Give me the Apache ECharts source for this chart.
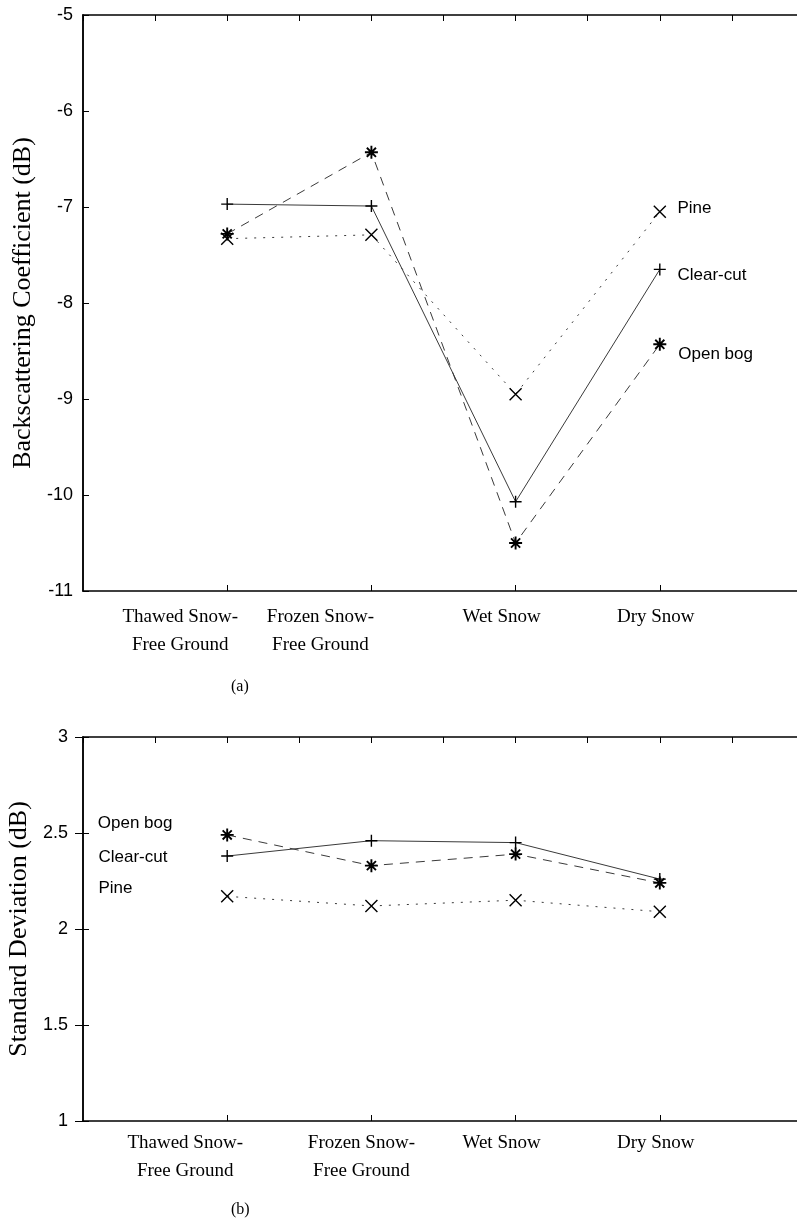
<!DOCTYPE html>
<html>
<head>
<meta charset="utf-8">
<script src="https://cdn.jsdelivr.net/npm/echarts@6/dist/echarts.min.js"></script>
<style>
  html, body { margin: 0; padding: 0; background: #fff; }
  #chart { width: 797px; height: 1226px; }
</style>
</head>
<body>
<div id="chart"></div>
<script>
// categories sit at x = 1..4 on a 0..5 value axis (like the original plot)
var categories = ['Thawed Snow-|Free Ground', 'Frozen Snow-|Free Ground', 'Wet Snow', 'Dry Snow'];
var catPos = [1, 2, 3, 4];

// (a) backscattering coefficient, dB
var sigmaPine     = [-7.33, -7.29, -8.95, -7.05];
var sigmaClearcut = [-6.97, -6.99, -10.07, -7.65];
var sigmaOpenbog  = [-7.28, -6.43, -10.50, -8.43];

// (b) standard deviation, dB
var sdPine     = [2.17, 2.12, 2.15, 2.09];
var sdClearcut = [2.38, 2.46, 2.45, 2.26];
var sdOpenbog  = [2.49, 2.33, 2.39, 2.24];

var SERIF = '"Liberation Serif", "Times New Roman", serif';
var SANS = '"Liberation Sans", Arial, sans-serif';

var SYM_X = 'path://M0 0L10 10M10 0L0 10';
var SYM_PLUS = 'path://M0 5L10 5M5 0L5 10';
var SYM_STAR = 'path://M5 0L5 10M0 5L10 5M1.5 1.5L8.5 8.5M8.5 1.5L1.5 8.5';

// how far each category label is pushed left (px), per panel
var shiftTop = [47, 51, 14, 4];
var shiftBot = [42, 10, 14, 4];

function richFor(shifts) {
  var r = {};
  shifts.forEach(function (s, i) {
    r['c' + i] = { fontFamily: SERIF, fontSize: 19, lineHeight: 28, color: '#000', padding: [0, 2 * s, 0, 0] };
  });
  return r;
}
function catFormatter(v) {
  var i = Math.round(v) - 1;
  if (i < 0 || i > 3 || Math.abs(v - Math.round(v)) > 1e-6) return '';
  return categories[i].split('|').map(function (t) { return '{c' + i + '|' + t + '}'; }).join('\n');
}

function xAxes(grid, shifts, margin) {
  return [
    {
      gridIndex: grid, type: 'value', min: 0, max: 5, interval: 1, position: 'bottom',
      axisLine: { lineStyle: { color: '#000', width: 1.5 } },
      axisTick: { inside: true, length: 6, lineStyle: { color: '#000' } },
      axisLabel: { formatter: catFormatter, margin: margin, rich: richFor(shifts), showMinLabel: false, showMaxLabel: false },
      splitLine: { show: false }
    },
    {
      gridIndex: grid, type: 'value', min: 0, max: 5, interval: 0.5, position: 'top',
      axisLine: { lineStyle: { color: '#000', width: 1.5 } },
      axisTick: { inside: true, length: 6, lineStyle: { color: '#000' } },
      axisLabel: { show: false },
      splitLine: { show: false }
    }
  ];
}

function yAxes(grid, min, max, interval, name, margin, rightTicks) {
  return [
    {
      gridIndex: grid, type: 'value', min: min, max: max, interval: interval, position: 'left',
      name: name, nameLocation: 'middle', nameGap: 44,
      nameTextStyle: { fontFamily: SERIF, fontSize: 26, color: '#000' },
      axisLine: { show: true, lineStyle: { color: '#000', width: 1.5 } },
      axisTick: { show: true, inside: true, length: 6, lineStyle: { color: '#000' } },
      axisLabel: { fontFamily: SANS, fontSize: 18, color: '#000', margin: margin },
      splitLine: { show: false }
    },
    {
      gridIndex: grid, type: 'value', min: min, max: max, interval: interval, position: 'right',
      axisLine: { show: true, lineStyle: { color: '#000', width: 1.5 } },
      axisTick: { show: rightTicks, inside: true, length: 8, lineStyle: { color: '#000' } },
      axisLabel: { show: false },
      splitLine: { show: false }
    }
  ];
}

function lineSeries(name, vals, xi, yi, symbol, dash, labelAt, label) {
  var star = symbol === SYM_STAR;
  return {
    name: name, type: 'line', xAxisIndex: xi, yAxisIndex: yi,
    data: vals.map(function (v, i) {
      var d = { value: [catPos[i], v] };
      if (i === labelAt) d.label = label;
      return d;
    }),
    symbol: symbol, symbolSize: star ? 13 : 12,
    itemStyle: { color: 'rgba(0,0,0,0)', borderColor: '#000', borderWidth: star ? 1.9 : 1.4 },
    lineStyle: { color: '#3a3a3a', width: 1, type: dash },
    label: { show: false },
    animation: false, z: 3
  };
}

function rightLabel(text, dy) {
  return { show: true, position: 'right', distance: 11, offset: [0, dy], formatter: text,
           fontFamily: SANS, fontSize: 17, color: '#000' };
}
function leftLabel(text, dy) {
  return { show: true, position: 'left', distance: 5, align: 'left', offset: [-117, dy], formatter: text,
           fontFamily: SANS, fontSize: 17, color: '#000' };
}

var chart = echarts.init(document.getElementById('chart'));
chart.setOption({
  backgroundColor: '#fff',
  animation: false,
  // the plot frame runs a few px past the right edge of the page
  grid: [
    { left: 83, width: 721, top: 15, height: 576, outerBoundsMode: 'none', containLabel: false },
    { left: 83, width: 721, top: 737, height: 384, outerBoundsMode: 'none', containLabel: false }
  ],
  xAxis: xAxes(0, shiftTop, 12).concat(xAxes(1, shiftBot, 8)),
  yAxis: yAxes(0, -11, -5, 1, 'Backscattering Coefficient (dB)', 10, false)
    .concat(yAxes(1, 1, 3, 0.5, 'Standard Deviation (dB)', 15, true)),
  series: [
    lineSeries('Pine', sigmaPine, 0, 0, SYM_X, [2, 7], 3, rightLabel('Pine', -3)),
    lineSeries('Clear-cut', sigmaClearcut, 0, 0, SYM_PLUS, 'solid', 3, rightLabel('Clear-cut', 6)),
    lineSeries('Open bog', sigmaOpenbog, 0, 0, SYM_STAR, [9, 7], 3, rightLabel('Open bog', 10)),
    lineSeries('Pine', sdPine, 2, 2, SYM_X, [2, 7], 0, leftLabel('Pine', -8)),
    lineSeries('Clear-cut', sdClearcut, 2, 2, SYM_PLUS, 'solid', 0, leftLabel('Clear-cut', 1)),
    lineSeries('Open bog', sdOpenbog, 2, 2, SYM_STAR, [9, 7], 0, leftLabel('Open bog', -12))
  ],
  graphic: [
    { type: 'text', left: 231, top: 679, style: { text: '(a)', font: '16px ' + SERIF, fill: '#000' } },
    { type: 'text', left: 231, top: 1202, style: { text: '(b)', font: '16px ' + SERIF, fill: '#000' } }
  ]
});
</script>
</body>
</html>
